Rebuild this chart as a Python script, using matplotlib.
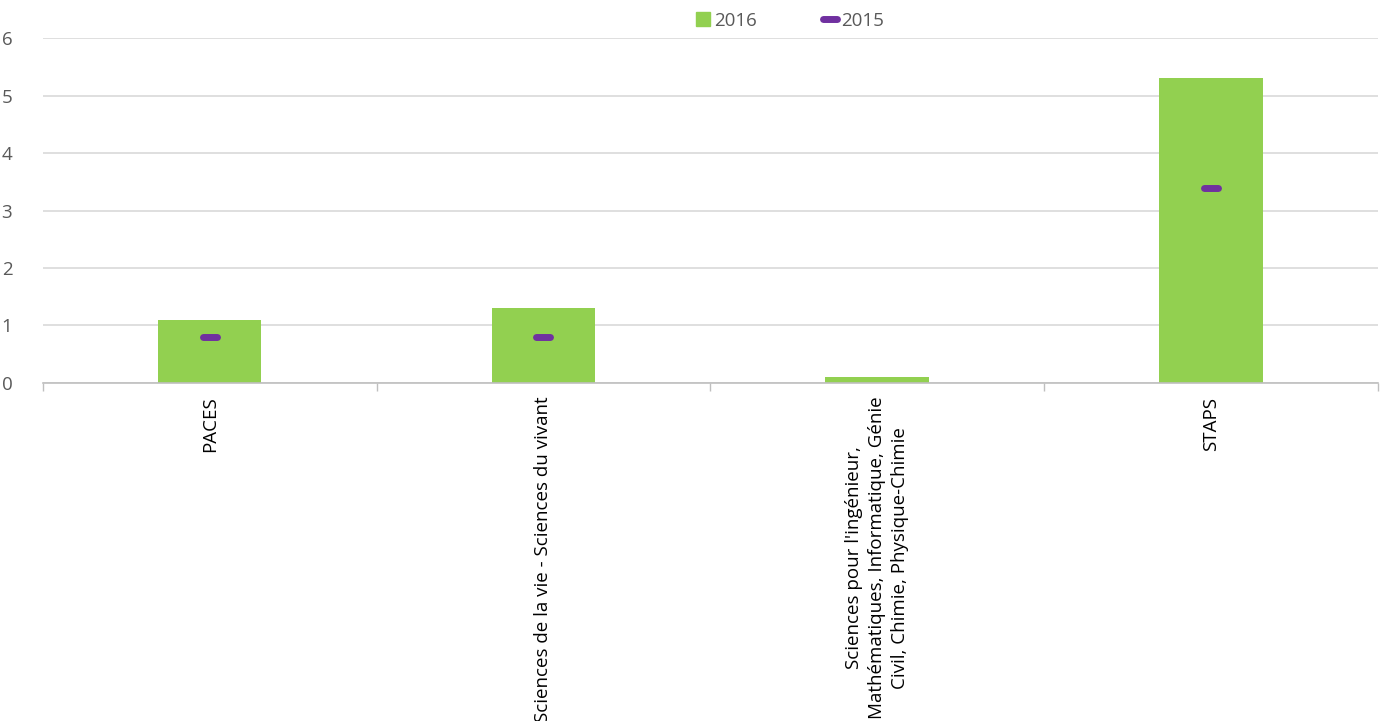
import numpy as np
import matplotlib.pyplot as plt
from matplotlib.markers import MarkerStyle
from matplotlib.lines import Line2D

# Données
categories = ["PACES",
              "Sciences de la vie - Sciences du vivant",
              "Sciences pour l'ingénieur,\nMathématiques, Informatique, Génie\nCivil, Chimie, Physique-Chimie",
              "STAPS"]
values_2016 = [1.1, 1.3, 0.1, 5.3]
values_2015 = [0.8, 0.8, None, 3.4]

plt.rcParams['font.family'] = ['Open Sans', 'DejaVu Sans']

fig = plt.figure(figsize=(13.82, 7.21), dpi=100)
ax = fig.add_axes([0.031, 0.469, 0.966, 0.478])

green = '#92d050'
purple = '#7030a0'

x = np.arange(len(categories))
ax.bar(x, values_2016, width=0.31, color=green, zorder=2)

x15 = [i for i, v in enumerate(values_2015) if v is not None]
y15 = [v for v in values_2015 if v is not None]
dash = MarkerStyle('_', capstyle='round')
ax.plot(x15, y15, linestyle='none', marker=dash, markersize=10, markeredgewidth=5,
        color=purple, zorder=3)

ax.set_xlim(-0.5, len(categories) - 0.5)
ax.set_ylim(0, 6)
ax.set_yticks(range(0, 7))
ax.grid(axis='y', color='#d9d9d9', linewidth=1.2, zorder=0)

ax.set_xticks(x)
ax.set_xticklabels(categories, rotation=90, ha='center', va='top', multialignment='center',
                   fontsize=13.5, color='black', linespacing=1.35)
ax.tick_params(axis='x', which='major', length=0, pad=10)
ax.set_xticks(np.arange(-0.5, len(categories)), minor=True)
ax.tick_params(axis='x', which='minor', length=6, color='#bfbfbf', width=1)
ax.tick_params(axis='y', length=0, labelsize=13.5, labelcolor='#595959', pad=22)

for s in ['top', 'right', 'left']:
    ax.spines[s].set_visible(False)
ax.spines['bottom'].set_color('#bfbfbf')
ax.spines['bottom'].set_linewidth(1.2)

handles = [Line2D([], [], linestyle='none', marker='s', markersize=10, color=green),
           Line2D([], [], linestyle='none', marker=dash, markersize=10, markeredgewidth=5, color=purple)]
ax.legend(handles, ['2016', '2015'], loc='center', bbox_to_anchor=((790 - 43) / 1335, 1.05),
          ncol=2, frameon=False, fontsize=13.5, labelcolor='#595959', columnspacing=3.5,
          handlelength=0.8, handletextpad=0.2, borderaxespad=0)

fig.savefig('out.png', dpi=100)
